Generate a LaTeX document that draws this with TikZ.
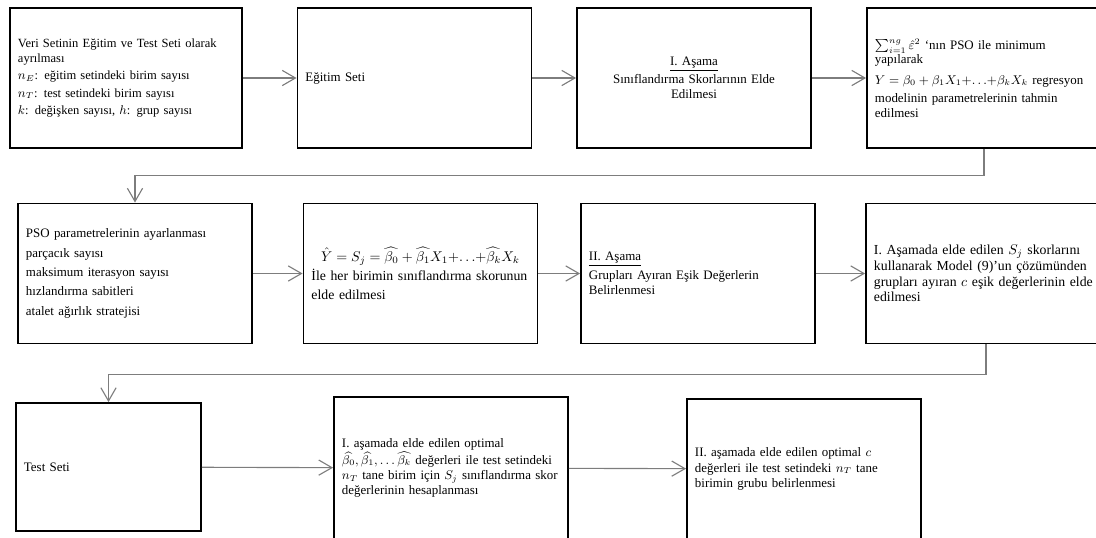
\documentclass[tikz,border=0pt]{standalone}
\usepackage{amsmath,amssymb}
\usepackage{fontspec}
\setmainfont{Liberation Serif}
\usetikzlibrary{arrows.meta,positioning}
\definecolor{linegray}{RGB}{125,125,125}

\begin{document}
\begin{tikzpicture}[
    x=0.025cm, y=-0.025cm,
    font=\fontsize{9.2pt}{10.8pt}\selectfont,
    box/.style={rectangle, draw, line width=1.3pt, minimum height=3.5cm, text width=5.45cm, inner xsep=0.2cm, align=left},
    bigtext/.style={font=\fontsize{9.8pt}{11.2pt}\selectfont},
    arrow/.style={-{Straight Barb[length=3.3mm, width=3.8mm]}, linegray, line width=0.8pt}
]
\useasboundingbox (0,0) rectangle (1096,538);
\clip (0,0) rectangle (1096,538);

% First row
\node[box, text width=5.4cm, font=\fontsize{8.9pt}{10.6pt}\selectfont] (veri) at (126,78) {Veri Setinin Eğitim ve Test Seti olarak\\
ayrılması\\[1.8pt]
$n_E$: eğitim setindeki birim sayısı\\[1.8pt]
$n_T$: test setindeki birim sayısı\\[1.8pt]
$k$: değişken sayısı, $h$: grup sayısı};

\node[box] (egitim) at (414.5,78) {Eğitim Seti};

\node[box, align=center] (asama1) at (694,78) {\underline{I. Aşama}\\[2pt]
Sınıflandırma Skorlarının Elde\\
Edilmesi};

\node[box] (pso) at (984,78) {$\sum_{i=1}^{ng}\hat{\varepsilon}^2$ ‘nın PSO ile minimum\\[-1pt]
yapılarak\\[4pt]
$Y=\beta_0+\beta_1X_1{+}{\ldots}{+}\beta_kX_k$ regresyon\\[2pt]
modelinin parametrelerinin tahmin\\
edilmesi};

% Second row
\node[box] (psopar) at (135,273.5) {PSO parametrelerinin ayarlanması\\[3pt]
parçacık sayısı\\[3pt]
maksimum iterasyon sayısı\\[3pt]
hızlandırma sabitleri\\[3pt]
atalet ağırlık stratejisi};

\node[box, bigtext] (yhat) at (420.5,273.5) {\makebox[5.45cm][c]{$\hat{Y}=S_j=\widehat{\beta_0}+\widehat{\beta_1}X_1{+}{\ldots}{+}\widehat{\beta_k}X_k$}\\[2.5pt]
İle her birimin sınıflandırma skorunun\\[2.5pt]
elde edilmesi};

\node[box] (asama2) at (698,273.5) {\underline{II. Aşama}\\[2.5pt]
Grupları Ayıran Eşik Değerlerin\\
Belirlenmesi};

\node[box, bigtext, text width=5.6cm] (esik) at (986,273.5) {I. Aşamada elde edilen $S_j$ skorlarını\\
kullanarak Model (9)’un çözümünden\\
grupları ayıran $c$ eşik değerlerinin elde\\
edilmesi};

% Third row
\node[box, text width=4.225cm, minimum height=3.2cm] (test) at (108.5,467) {Test Seti};

\node[box, minimum height=3.55cm] (hesap) at (451,468) {I. aşamada elde edilen optimal\\
$\widehat{\beta_0},\widehat{\beta_1},\ldots\widehat{\beta_k}$ değerleri ile test setindeki\\
$n_T$ tane birim için $S_j$ sınıflandırma skor\\
değerlerinin hesaplanması};

\node[box] (grup) at (804,469) {II. aşamada elde edilen optimal $c$\\
değerleri ile test setindeki $n_T$ tane\\
birimin grubu belirlenmesi};

% Arrows
\draw[arrow] (veri) -- (egitim);
\draw[arrow] (egitim) -- (asama1);
\draw[arrow] (asama1) -- (pso);
\draw[arrow] (pso.south) -- ++(0,27) -| (psopar.north);
\draw[arrow] (psopar) -- (yhat);
\draw[arrow] (yhat) -- (asama2);
\draw[arrow] (asama2) -- (esik);
\draw[arrow] (esik.south) -- ++(0,30) -| (test.north);
\draw[arrow] (test) -- (hesap);
\draw[arrow] (hesap) -- (grup);

\end{tikzpicture}
\end{document}
